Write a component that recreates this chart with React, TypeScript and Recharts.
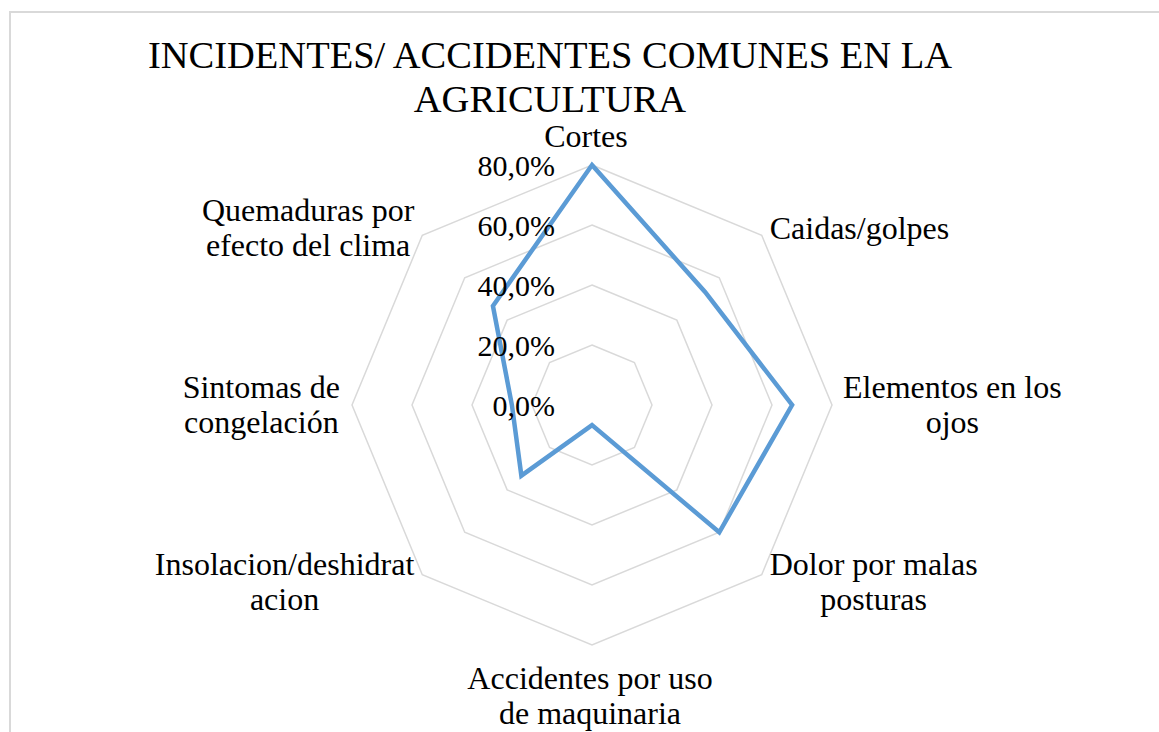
import React from 'react';
import {
  RadarChart,
  PolarGrid,
  PolarAngleAxis,
  PolarRadiusAxis,
  Radar,
} from 'recharts';

// categorías (en el orden de Excel, en sentido horario desde arriba)
const categories = [
  'Cortes',
  'Caidas/golpes',
  'Elementos en los ojos',
  'Dolor por malas posturas',
  'Accidentes por uso de maquinaria',
  'Insolacion/deshidratacion',
  'Sintomas de congelación',
  'Quemaduras por efecto del clima',
];

// porcentaje de casos por categoría
const values = [0.8, 0.533, 0.667, 0.6, 0.067, 0.333, 0.267, 0.467];

// cortes de línea tal como los hace Excel
const labelLines = [
  ['Cortes'],
  ['Caidas/golpes'],
  ['Elementos en los', 'ojos'],
  ['Dolor por malas', 'posturas'],
  ['Accidentes por uso', 'de maquinaria'],
  ['Insolacion/deshidrat', 'acion'],
  ['Sintomas de', 'congelación'],
  ['Quemaduras por', 'efecto del clima'],
];

const radiusDomain = [0, 0.8];
const radiusTickCount = 5;

const titleLines = ['INCIDENTES/ ACCIDENTES COMUNES EN LA', 'AGRICULTURA'];

const data = categories.map((c, i) => ({ category: c, value: values[i] }));

const FONT = '"Liberation Serif", "Times New Roman", serif';
const W = 1159;
const H = 732;
const CX = 592;
const CY = 405;
const R = 240;
const LABEL_FS = 32;
const LH = 35;

let ctx: CanvasRenderingContext2D | null = null;
function measure(text: string, fs: number) {
  if (!ctx) ctx = document.createElement('canvas').getContext('2d');
  if (!ctx) return text.length * fs * 0.45;
  ctx.font = `${fs}px "Liberation Serif"`;
  return ctx.measureText(text).width;
}

const pct = (v: number) => (v * 100).toFixed(1).replace('.', ',') + '%';

function RadiusTick(props: any) {
  const { x, y, payload } = props;
  return (
    <text
      x={x - 37}
      y={y}
      textAnchor="end"
      dominantBaseline="central"
      fontSize={30}
      fontFamily={FONT}
      fill="#000"
    >
      {pct(payload.value)}
    </text>
  );
}

function AngleTick(props: any) {
  const { payload, index } = props;
  const lines = labelLines[index] ?? [String(payload.value)];
  const rad = (payload.coordinate * Math.PI) / 180;
  const cos = Math.cos(rad);
  const sin = Math.sin(rad);
  const vx = CX + R * cos;
  const vy = CY - R * sin;
  const capH = LABEL_FS * 0.66;
  const blockW = Math.max(...lines.map((l) => measure(l, LABEL_FS)));
  const blockH = capH + (lines.length - 1) * LH;

  let midX = vx;
  if (cos > 0.1) midX = vx + (Math.abs(sin) > 0.1 ? 8 : 11) + blockW / 2;
  else if (cos < -0.1) midX = vx - (Math.abs(sin) > 0.1 ? 8 : 12) - blockW / 2;
  else midX = vx - (sin > 0 ? 6 : 2);

  let top: number;
  if (sin > 0.9) top = vy - 18 - blockH;
  else if (sin < -0.9) top = vy + 23;
  else if (Math.abs(sin) < 0.1) top = vy - blockH / 2;
  else top = vy - 7 * Math.sign(sin) - blockH / 2;

  return (
    <g>
      {lines.map((l, i) => (
        <text
          key={i}
          x={midX}
          y={top + capH + i * LH}
          textAnchor="middle"
          fontSize={LABEL_FS}
          fontFamily={FONT}
          fill="#000"
        >
          {l}
        </text>
      ))}
    </g>
  );
}

export default function App() {
  return (
    <div
      style={{
        position: 'fixed',
        left: 0,
        top: 0,
        width: W,
        height: H,
        overflow: 'hidden',
        background: '#fff',
      }}
    >
      <div
        style={{
          position: 'absolute',
          left: 9,
          top: 11,
          width: W,
          height: H,
          borderLeft: '2px solid #d9d9d9',
          borderTop: '2px solid #d9d9d9',
        }}
      />
      <div style={{ position: 'absolute', left: 0, top: 0 }}>
        <RadarChart
          width={W}
          height={H}
          data={data}
          cx={CX}
          cy={CY}
          outerRadius={R}
          margin={{ top: 0, right: 0, bottom: 0, left: 0 }}
        >
          <PolarGrid
            gridType="polygon"
            radialLines={false}
            stroke="#d9d9d9"
            strokeWidth={1.5}
          />
          <PolarAngleAxis
            dataKey="category"
            tick={(p: any) => <AngleTick {...p} />}
            tickLine={false}
            axisLine={false}
          />
          <PolarRadiusAxis
            angle={90}
            type="number"
            domain={radiusDomain as any}
            allowDecimals
            tickCount={radiusTickCount}
            axisLine={false}
            tickLine={false}
            tick={(p: any) => <RadiusTick {...p} />}
          />
          <Radar
            dataKey="value"
            stroke="#5b9bd5"
            strokeWidth={4.5}
            fill="none"
            fillOpacity={0}
            dot={false}
            isAnimationActive={false}
          />
        </RadarChart>
      </div>
      <svg
        width={W}
        height={130}
        style={{ position: 'absolute', left: 0, top: 0, pointerEvents: 'none' }}
      >
        {titleLines.map((t, i) => (
          <text
            key={i}
            x={550}
            y={68 + i * 44}
            textAnchor="middle"
            fontSize={38.5}
            fontFamily={FONT}
            fill="#000"
          >
            {t}
          </text>
        ))}
      </svg>
    </div>
  );
}
